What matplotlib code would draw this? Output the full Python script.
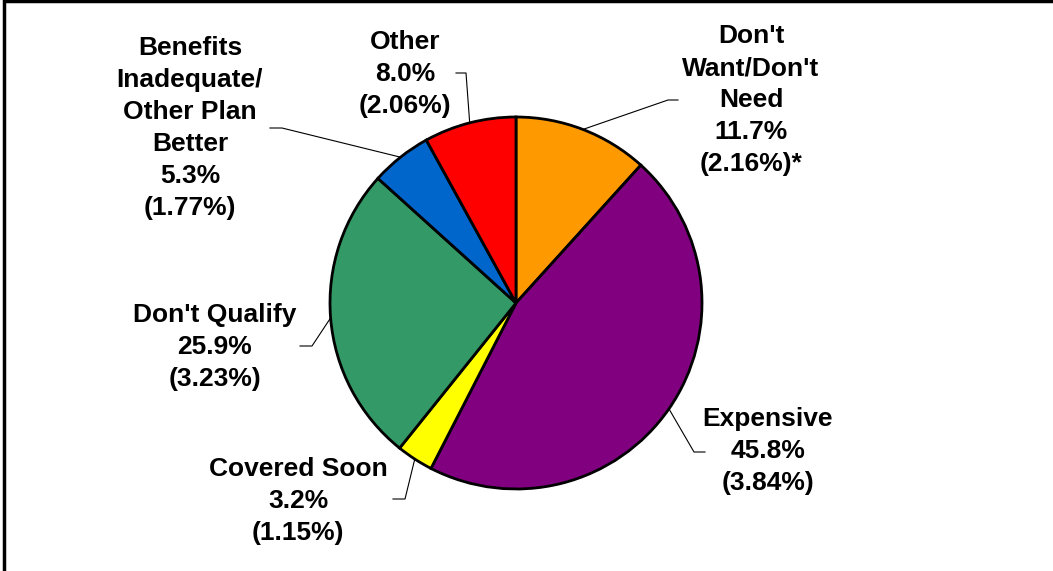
import numpy as np
import matplotlib.pyplot as plt
from matplotlib.patches import Rectangle

# reasons for not taking coverage, share of respondents (standard error)
reasons = ["Don't\nWant/Don't\nNeed", "Expensive", "Covered Soon",
           "Don't Qualify", "Benefits\nInadequate/\nOther Plan\nBetter", "Other"]
shares = [11.7, 45.8, 3.2, 25.9, 5.3, 8.0]
std_errs = ["(2.16%)*", "(3.84%)", "(1.15%)", "(3.23%)", "(1.77%)", "(2.06%)"]
colors = ["#FF9900", "#800080", "#FFFF00", "#339966", "#0066CC", "#FF0000"]

W, H = 1053, 571
fig = plt.figure(figsize=(W / 100, H / 100), dpi=100)
plt.rcParams['font.family'] = ['Liberation Sans', 'DejaVu Sans']

# pie centre and radius in pixels
cx, cy, r = 516, 303, 186
ax = fig.add_axes([(cx - r) / W, (H - cy - r) / H, 2 * r / W, 2 * r / H])
wedges, _ = ax.pie(shares, colors=colors, startangle=90, counterclock=False,
                   radius=1, wedgeprops=dict(edgecolor='black', linewidth=2))
ax.set_xlim(-1, 1)
ax.set_ylim(-1, 1)
ax.set_aspect('equal')
ax.axis('off')

def px(x, y):
    # pixel position -> pie data coordinates
    return (x - cx) / r, (cy - y) / r

# label centre and leader elbow/end, in pixels
label_pos = [(751, 100), (768, 451), (298, 501), (215, 347), (190, 128), (405, 74)]
elbows = [((668, 100), (678, 100)), ((694, 452), (705, 452)),
          ((405, 499), (393, 499)), ((312, 346), (300, 346)),
          ((282, 128), (270, 128)), ((466, 73), (456, 73))]

for w, name, val, se, pos, (elb, end) in zip(wedges, reasons, shares, std_errs,
                                              label_pos, elbows):
    ang = np.deg2rad((w.theta1 + w.theta2) / 2)
    x0, y0 = np.cos(ang), np.sin(ang)
    ex, ey = px(*elb)
    tx, ty = px(*end)
    ax.plot([x0, ex, tx], [y0, ey, ty], color='black', lw=0.8,
            clip_on=False, zorder=0)
    lx, ly = px(*pos)
    ax.text(lx, ly, f"{name}\n{val:.1f}%\n{se}", ha='center', va='center',
            fontsize=19, fontweight='bold', linespacing=1.42, clip_on=False)

# frame around the chart area
fig.add_artist(Rectangle((4 / W, -0.1), 1.1, 1.1 - 1 / H, transform=fig.transFigure,
                         fill=False, edgecolor='black', linewidth=2.5))

fig.savefig('out.png', dpi=100)
